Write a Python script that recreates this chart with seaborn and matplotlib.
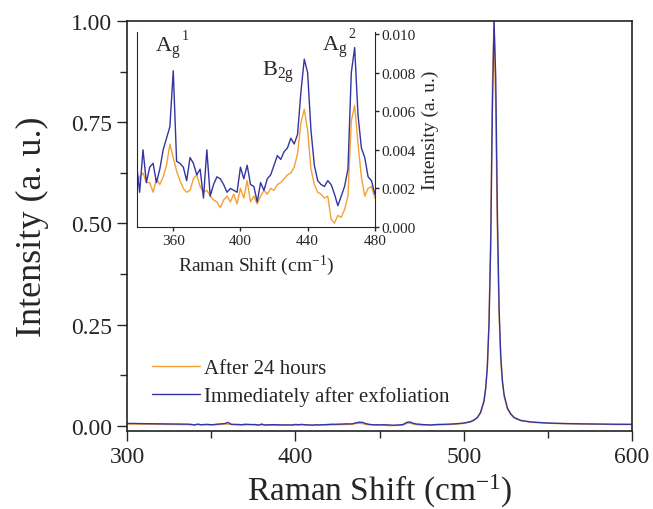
import numpy as np
import pandas as pd
import matplotlib
matplotlib.use('Agg')
import matplotlib.pyplot as plt
import seaborn as sns

# Raman shift positions (cm^-1) and normalised intensities
shift = ([300, 304, 308, 312, 316, 320, 324, 328, 332, 336]
         + list(range(338, 482, 2))
         + [484, 488, 492, 496, 500, 504, 506, 508, 510, 512, 513, 514, 515, 516,
            517, 518, 519, 520, 521, 522, 523, 524, 526, 528, 530, 534, 540, 550,
            560, 570, 580, 590, 600])

after_24h = ([0.0040, 0.0042, 0.0038, 0.0036, 0.0035, 0.0033, 0.0031, 0.0030, 0.0028, 0.0026]
             + [0.0020, 0.0026, 0.0028, 0.0023, 0.0023, 0.0018, 0.0025, 0.0022, 0.0026, 0.0032,
                0.0043, 0.0036, 0.0029, 0.0024, 0.0020, 0.0018, 0.0019, 0.0025, 0.0027, 0.0021,
                0.0018, 0.0019, 0.0016, 0.0014, 0.0013, 0.0010, 0.0014, 0.0016, 0.0013, 0.0017,
                0.0012, 0.0020, 0.0015, 0.0024, 0.0013, 0.0016, 0.0012, 0.0016, 0.0019, 0.0017,
                0.0020, 0.0019, 0.0022, 0.0023, 0.0025, 0.0027, 0.0028, 0.0031, 0.0038, 0.0054,
                0.0061, 0.0050, 0.0030, 0.0022, 0.0018, 0.0017, 0.0015, 0.0016, 0.0004, 0.0002,
                0.0006, 0.0005, 0.0009, 0.0016, 0.0055, 0.0063, 0.0043, 0.0026, 0.0016, 0.0020,
                0.0021, 0.0015]
             + [0.0020, 0.0024, 0.0030, 0.0040, 0.0055, 0.0090, 0.013, 0.019, 0.031, 0.058,
                0.088, 0.14, 0.26, 0.47, 0.84, 1.0, 0.78, 0.47, 0.27, 0.16, 0.105, 0.072,
                0.040, 0.027, 0.019, 0.012, 0.0085, 0.0060, 0.0048, 0.0040, 0.0035, 0.0030,
                0.0028])

immediate = ([0.0055, 0.0056, 0.0052, 0.0050, 0.0048, 0.0046, 0.0044, 0.0042, 0.0040, 0.0038]
             + [0.0034, 0.0018, 0.0040, 0.0023, 0.0031, 0.0033, 0.0023, 0.0030, 0.0040, 0.0046,
                0.0052, 0.0081, 0.0034, 0.0033, 0.0031, 0.0024, 0.0036, 0.0033, 0.0027, 0.0030,
                0.0015, 0.0040, 0.0016, 0.0022, 0.0026, 0.0025, 0.0022, 0.0018, 0.0020, 0.0019,
                0.0018, 0.0031, 0.0025, 0.0032, 0.0022, 0.0021, 0.0013, 0.0023, 0.0019, 0.0025,
                0.0027, 0.0032, 0.0037, 0.0035, 0.0039, 0.0041, 0.0046, 0.0043, 0.0048, 0.0070,
                0.0087, 0.0080, 0.0050, 0.0032, 0.0024, 0.0022, 0.0021, 0.0024, 0.0022, 0.0017,
                0.0011, 0.0016, 0.0021, 0.0030, 0.0080, 0.0093, 0.0058, 0.0041, 0.0036, 0.0026,
                0.0024, 0.0017]
             + [0.0030, 0.0034, 0.0040, 0.0050, 0.0066, 0.0100, 0.014, 0.020, 0.033, 0.061,
                0.092, 0.145, 0.25, 0.44, 0.78, 1.0, 0.86, 0.52, 0.29, 0.17, 0.11, 0.076,
                0.043, 0.029, 0.020, 0.013, 0.0092, 0.0066, 0.0054, 0.0046, 0.0041, 0.0036,
                0.0034])

series_names = ['After 24 hours', 'Immediately after exfoliation']
colors = ['#F5A033', '#3434A2']

# peak labels for the inset (base symbol, superscript)
peak_labels = [r'$\mathregular{A_{g}}$', r'$\mathregular{B_{2g}}$', r'$\mathregular{A_{g}}$']
peak_sups = ['1', '', '2']
peak_x = [349.3, 413, 448.5]
peak_y = [0.0091, 0.0079, 0.0092]

df = pd.DataFrame({
    'shift': shift * 2,
    'intensity': after_24h + immediate,
    'sample': [series_names[0]] * len(shift) + [series_names[1]] * len(shift),
})

sns.set_style('ticks')
plt.rcParams['font.family'] = ['Liberation Serif', 'DejaVu Serif']
plt.rcParams['mathtext.fontset'] = 'custom'
plt.rcParams['mathtext.rm'] = 'Liberation Serif'
plt.rcParams['mathtext.it'] = 'Liberation Serif:italic'

fig = plt.figure(figsize=(6.53, 5.10), dpi=100)
ax = fig.add_axes([0.1945, 0.153, 0.7735, 0.804])

palette = dict(zip(series_names, colors))
sns.lineplot(data=df, x='shift', y='intensity', hue='sample', palette=palette,
             linewidth=1.0, ax=ax, estimator=None, sort=False)

ax.set_xlim(300, 600)
ax.set_ylim(-0.013, 1.0)
ax.set_xticks([300, 400, 500, 600])
ax.set_xticks([350, 450, 550], minor=True)
ax.set_yticks([0, 0.25, 0.5, 0.75, 1.0])
ax.set_yticks([0.125, 0.375, 0.625, 0.875], minor=True)
ax.set_yticklabels(['0.00', '0.25', '0.50', '0.75', '1.00'])
ax.tick_params(axis='both', which='major', labelsize=17, length=7, width=1, direction='out')
ax.tick_params(axis='both', which='minor', length=5, width=1, direction='out')
for s in ax.spines.values():
    s.set_linewidth(1.2)
    s.set_color('#222222')
ax.set_xlabel(r'Raman Shift (cm$^{-1}$)', fontsize=24, labelpad=4)
ax.set_ylabel('Intensity (a. u.)', fontsize=26, labelpad=16)

leg = ax.legend(loc='lower left', bbox_to_anchor=(0.025, 0.03), frameon=False,
                fontsize=15, handlelength=2.3, handletextpad=0.2, labelspacing=0.4,
                borderaxespad=0.2)

# inset with the weak Raman modes
ins = fig.add_axes([0.210, 0.553, 0.364, 0.382])
ins.patch.set_alpha(0)
sns.lineplot(data=df, x='shift', y='intensity', hue='sample', palette=palette,
             linewidth=1.0, ax=ins, estimator=None, sort=False, legend=False)
ins.set_xlim(338.5, 480)
ins.set_ylim(0, 0.0101)
ins.set_xticks([360, 400, 440, 480])
ins.set_yticks([0, 0.002, 0.004, 0.006, 0.008, 0.010])
ins.set_yticklabels(['0.000', '0.002', '0.004', '0.006', '0.008', '0.010'])
ins.yaxis.tick_right()
ins.yaxis.set_label_position('right')
ins.spines['top'].set_visible(False)
ins.tick_params(axis='both', labelsize=11, length=3, width=1, direction='out', pad=2)
ins.set_xlabel(r'Raman Shift (cm$^{-1}$)', fontsize=14, labelpad=4)
ins.set_ylabel('Intensity (a. u.)', fontsize=14, labelpad=4)
for lab, sup, px, py in zip(peak_labels, peak_sups, peak_x, peak_y):
    ins.text(px, py, lab, fontsize=16, ha='left', va='baseline')
    if sup:
        ins.annotate(sup, xy=(px, py), xytext=(19, 9), textcoords='offset points',
                     fontsize=10, ha='left', va='baseline')

fig.savefig('out.png', dpi=100)
